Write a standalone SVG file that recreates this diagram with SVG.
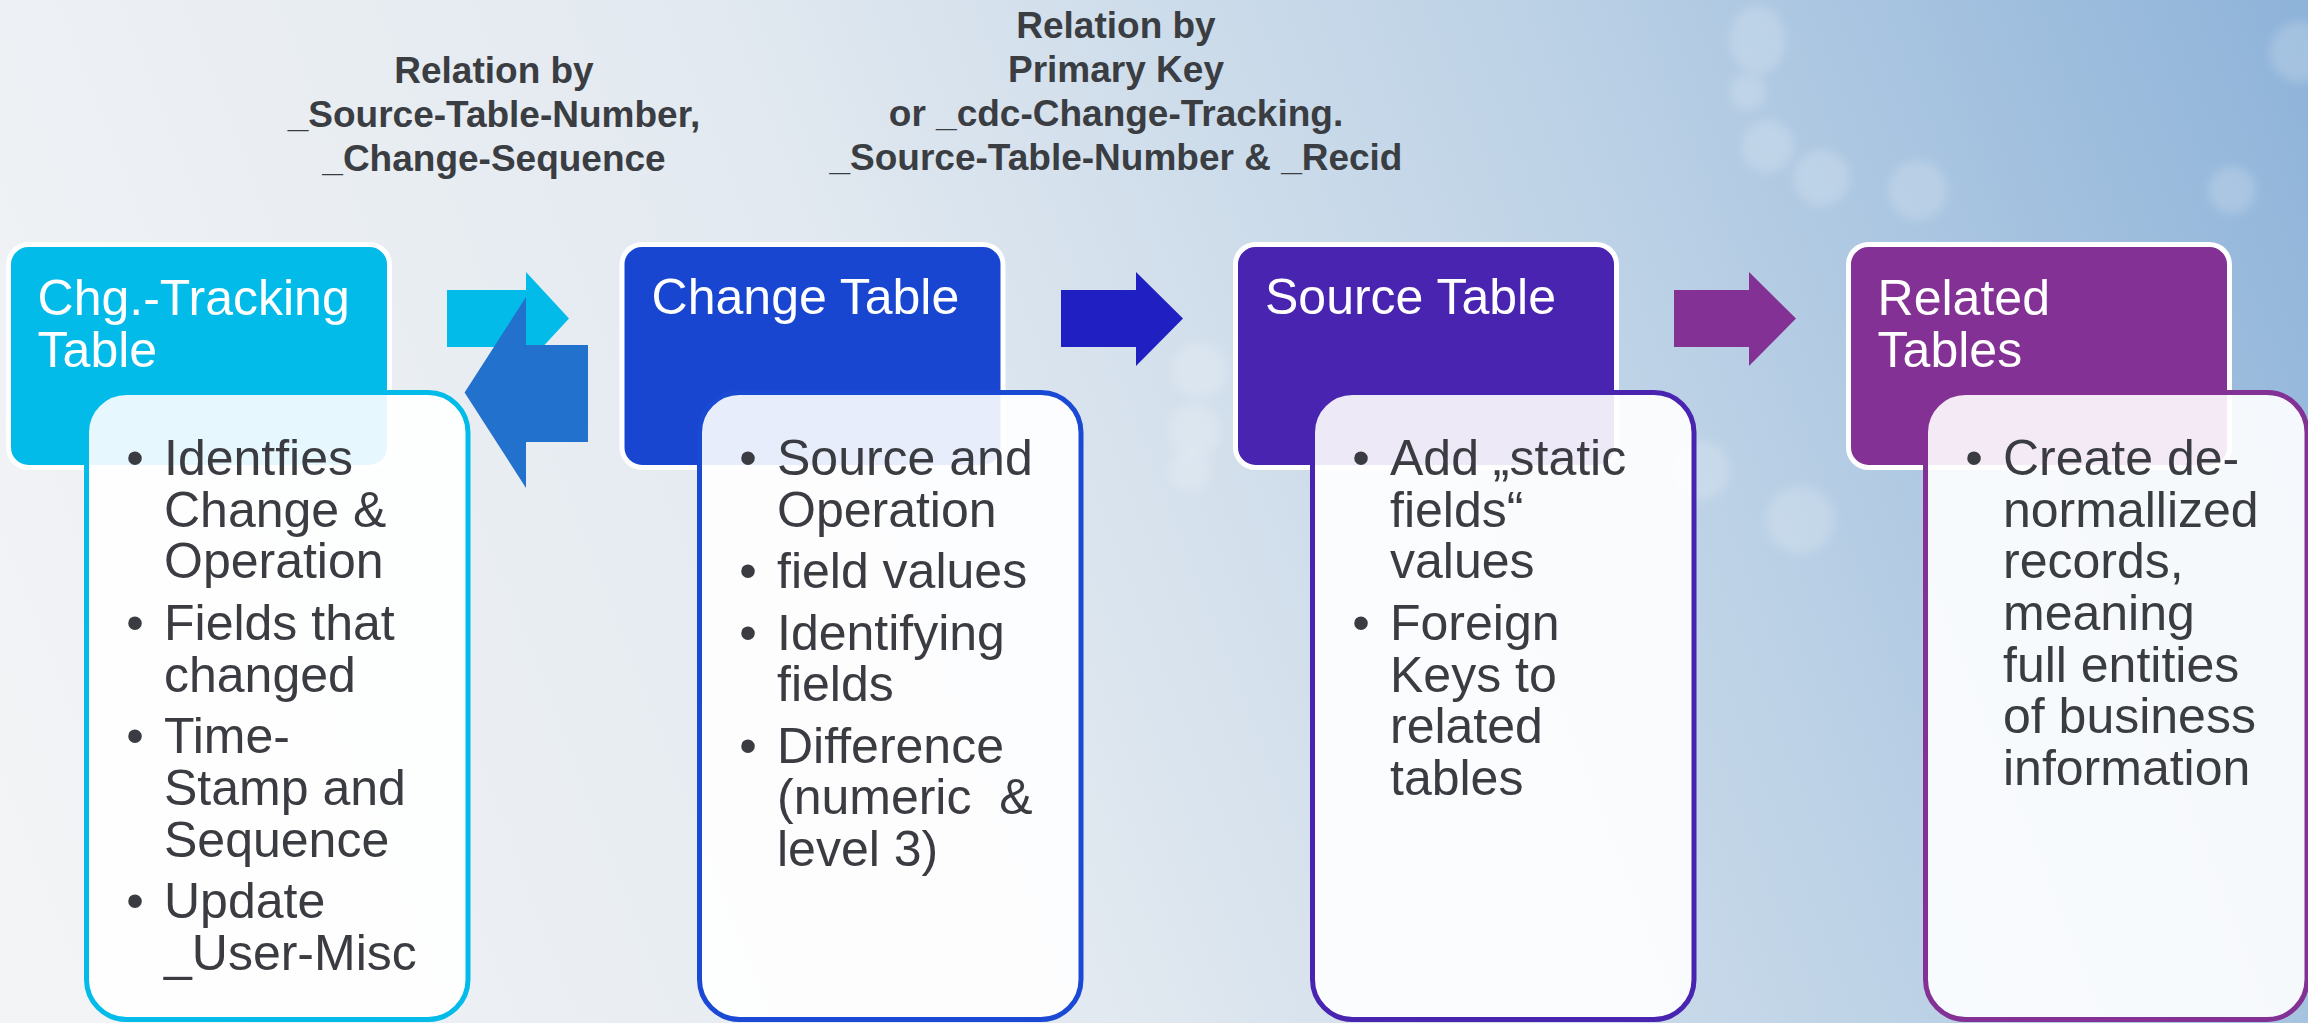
<svg xmlns="http://www.w3.org/2000/svg" width="2308" height="1023" viewBox="0 0 2308 1023">
<style>
.lbl{font-family:"Liberation Sans",Arial,sans-serif;font-weight:bold;font-size:37px;fill:#3a3d42;text-anchor:middle}
.hd{stroke:#ffffff;stroke-width:5}
.ht{font-family:"Liberation Sans",Arial,sans-serif;font-size:50px;fill:#ffffff}
.bd{fill:#ffffff;fill-opacity:0.9;stroke-width:5}
.bt{font-family:"Liberation Sans",Arial,sans-serif;font-size:50px;fill:#3a3c42;white-space:pre}
.bu{font-family:"Liberation Sans",Arial,sans-serif;font-size:50px;fill:#3a3c42;text-anchor:middle}
</style>
<defs>
<linearGradient id="bg" gradientUnits="userSpaceOnUse" x1="0" y1="900" x2="2308" y2="0">
<stop offset="0" stop-color="#f3f4f6"/>
<stop offset="0.4" stop-color="#e2e9f0"/>
<stop offset="0.7" stop-color="#bdd2e6"/>
<stop offset="1" stop-color="#8eb3d9"/>
</linearGradient>
<filter id="blur" x="-50%" y="-50%" width="200%" height="200%"><feGaussianBlur stdDeviation="5"/></filter>
</defs>
<rect x="0" y="0" width="2308" height="1023" fill="url(#bg)"/>
<g id="bokeh" fill="#ffffff" fill-opacity="0.18" filter="url(#blur)">
<ellipse cx="1758" cy="40" rx="28" ry="34"/>
<circle cx="1748" cy="92" r="18"/>
<circle cx="1768" cy="146" r="26"/>
<circle cx="1822" cy="178" r="28"/>
<circle cx="1918" cy="190" r="30"/>
<circle cx="2232" cy="190" r="24"/>
<circle cx="2300" cy="52" r="30"/>
<circle cx="1200" cy="370" r="28"/>
<circle cx="1195" cy="430" r="26"/>
<circle cx="1190" cy="470" r="20"/>
<circle cx="1700" cy="470" r="30"/>
<circle cx="1800" cy="520" r="34"/>
</g>
<g id="labels">
<text class="lbl" x="494" y="83">Relation by</text>
<text class="lbl" x="494" y="127">_Source-Table-Number,</text>
<text class="lbl" x="494" y="171">_Change-Sequence</text>
<text class="lbl" x="1116" y="38">Relation by</text>
<text class="lbl" x="1116" y="82">Primary Key</text>
<text class="lbl" x="1116" y="126">or _cdc-Change-Tracking.</text>
<text class="lbl" x="1116" y="170">_Source-Table-Number &amp; _Recid</text>
</g>
<g id="connectors">
<polygon fill="#03bbe9" points="447,290 526,290 526,272 569,318.5 526,365 526,347 447,347"/>
<polygon fill="#2271cc" points="588,345 526,345 526,297 464.6,392.5 526,488 526,442 588,442"/>
<polygon fill="#1f1fc2" points="1061,290 1136,290 1136,272 1183,318.5 1136,366 1136,347 1061,347"/>
<polygon fill="#833194" points="1674,290 1749,290 1749,272 1796,318.5 1749,366 1749,347 1674,347"/>
</g>
<g id="node1">
<rect class="hd" x="8.5" y="244.5" width="381" height="223" rx="20" fill="#03bbe9"/>
<text class="ht" x="37.6" y="315">Chg.-Tracking</text>
<text class="ht" x="37.6" y="367">Table</text>
<rect class="bd" x="86.5" y="392.5" width="381.5" height="627" rx="40" stroke="#03bbe9"/>
<text class="bu" x="135" y="475">•</text>
<text class="bt" x="164" y="475">Identfies</text>
<text class="bt" x="164" y="527">Change &amp;</text>
<text class="bt" x="164" y="578">Operation</text>
<text class="bu" x="135" y="640">•</text>
<text class="bt" x="164" y="640">Fields that</text>
<text class="bt" x="164" y="692">changed</text>
<text class="bu" x="135" y="753">•</text>
<text class="bt" x="164" y="753">Time-</text>
<text class="bt" x="164" y="805">Stamp and</text>
<text class="bt" x="164" y="857">Sequence</text>
<text class="bu" x="135" y="918">•</text>
<text class="bt" x="164" y="918">Update</text>
<text class="bt" x="164" y="970">_User-Misc</text>
</g>
<g id="node2">
<rect class="hd" x="622" y="244.5" width="381" height="223" rx="20" fill="#1846d0"/>
<text class="ht" x="651.6" y="314">Change Table</text>
<rect class="bd" x="699.5" y="392.5" width="381.5" height="627" rx="40" stroke="#1a4ad4"/>
<text class="bu" x="748" y="475">•</text>
<text class="bt" x="777" y="475">Source and</text>
<text class="bt" x="777" y="527">Operation</text>
<text class="bu" x="748" y="588">•</text>
<text class="bt" x="777" y="588">field values</text>
<text class="bu" x="748" y="650">•</text>
<text class="bt" x="777" y="650">Identifying</text>
<text class="bt" x="777" y="701">fields</text>
<text class="bu" x="748" y="763">•</text>
<text class="bt" x="777" y="763">Difference</text>
<text class="bt" x="777" y="814" xml:space="preserve">(numeric  &amp;</text>
<text class="bt" x="777" y="866">level 3)</text>
</g>
<g id="node3">
<rect class="hd" x="1235.5" y="244.5" width="381" height="223" rx="20" fill="#4824b0"/>
<text class="ht" x="1265" y="314">Source Table</text>
<rect class="bd" x="1312.5" y="392.5" width="381.5" height="627" rx="40" stroke="#4824b0"/>
<text class="bu" x="1361" y="475">•</text>
<text class="bt" x="1390" y="475">Add „static</text>
<text class="bt" x="1390" y="527">fields“</text>
<text class="bt" x="1390" y="578">values</text>
<text class="bu" x="1361" y="640">•</text>
<text class="bt" x="1390" y="640">Foreign</text>
<text class="bt" x="1390" y="692">Keys to</text>
<text class="bt" x="1390" y="743">related</text>
<text class="bt" x="1390" y="795">tables</text>
</g>
<g id="node4">
<rect class="hd" x="1848.5" y="244.5" width="381" height="223" rx="20" fill="#833194"/>
<text class="ht" x="1877.6" y="315">Related</text>
<text class="ht" x="1877.6" y="367">Tables</text>
<rect class="bd" x="1925.5" y="392.5" width="381.5" height="627" rx="40" stroke="#833194"/>
<text class="bu" x="1974" y="475">•</text>
<text class="bt" x="2003" y="475">Create de-</text>
<text class="bt" x="2003" y="527">normallized</text>
<text class="bt" x="2003" y="578">records,</text>
<text class="bt" x="2003" y="630">meaning</text>
<text class="bt" x="2003" y="682">full entities</text>
<text class="bt" x="2003" y="733">of business</text>
<text class="bt" x="2003" y="785">information</text>
</g>
</svg>
